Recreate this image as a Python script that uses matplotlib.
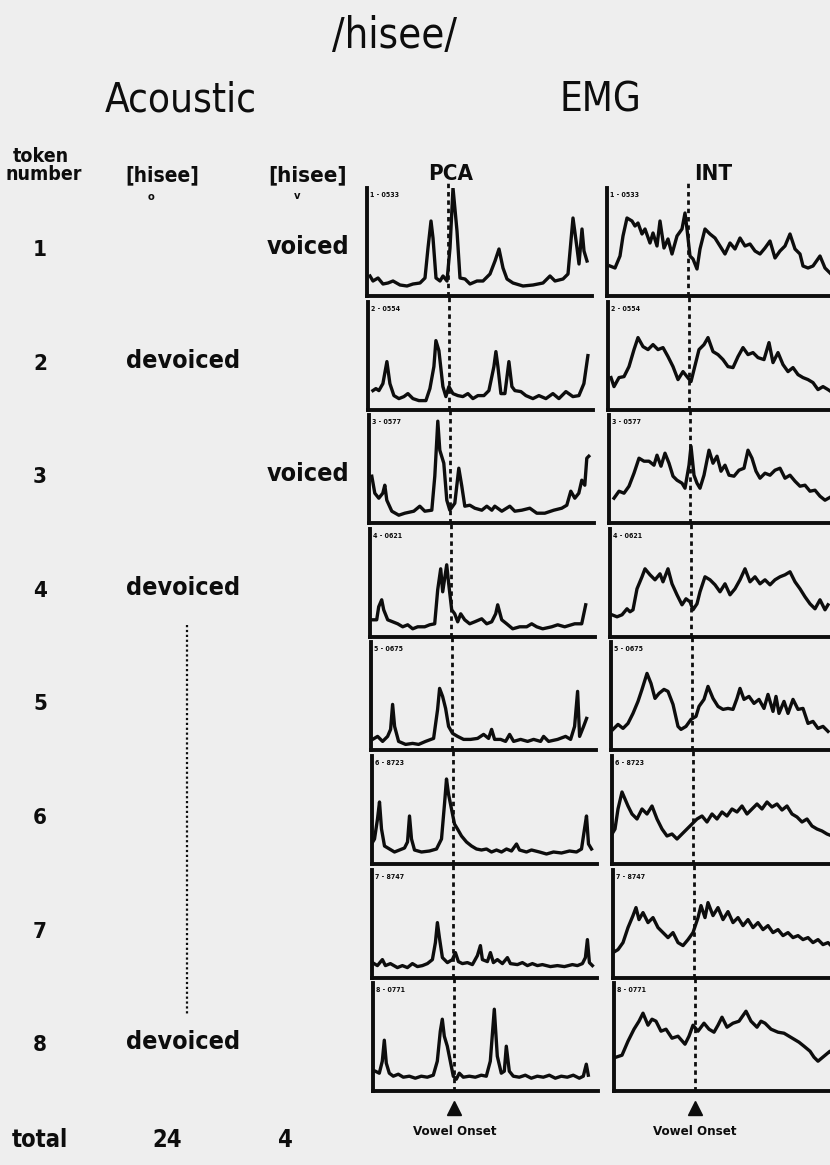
import numpy as np
from matplotlib import pyplot as plt

# token table (left side)
tokens = ["1", "2", "3", "4", "5", "6", "7", "8"]
acoustic_devoiced = ["", "devoiced", "", "devoiced", "", "", "", "devoiced"]
acoustic_voiced = ["voiced", "", "voiced", "", "", "", "", ""]
total_devoiced = "24"
total_voiced = "4"
token_ids = ["0533", "0554", "0577", "0621", "0675", "8723", "8747", "0771"]

vowel_onset = 81  # sample index of the vowel onset in every trace

# EMG traces: (sample, amplitude)
pca_1 = [(3, 20), (6, 15), (11, 18), (16, 12), (21, 13), (26, 15), (33, 11), (40, 10), (46, 12),
         (53, 13), (58, 18), (61, 48), (64, 75), (66, 58), (69, 18), (73, 15), (76, 20), (80, 15),
         (83, 48), (86, 108), (90, 65), (93, 18), (98, 17), (103, 12), (110, 15), (116, 15),
         (123, 22), (128, 35), (132, 47), (136, 28), (140, 17), (146, 13), (156, 10), (166, 11),
         (176, 13), (183, 20), (188, 15), (196, 17), (201, 22), (206, 78), (210, 48), (212, 32),
         (215, 67), (217, 45), (220, 35)]
pca_2 = [(5, 19), (8, 21), (11, 19), (15, 26), (19, 48), (22, 26), (26, 14), (31, 11), (36, 13),
         (40, 16), (45, 11), (51, 9), (58, 9), (62, 21), (66, 43), (68, 69), (71, 59), (75, 23),
         (78, 13), (81, 23), (85, 16), (90, 14), (95, 13), (100, 16), (105, 11), (110, 14),
         (116, 14), (121, 19), (126, 43), (128, 58), (130, 43), (133, 16), (137, 16), (141, 48),
         (144, 23), (147, 19), (153, 18), (158, 14), (165, 11), (171, 14), (178, 11), (185, 16),
         (191, 11), (198, 18), (205, 13), (211, 14), (216, 26), (220, 54)]
pca_3 = [(3, 47), (6, 30), (10, 25), (14, 30), (16, 38), (18, 23), (23, 12), (30, 8), (36, 10),
         (45, 12), (51, 17), (56, 12), (63, 13), (66, 47), (69, 102), (71, 73), (75, 60), (78, 23),
         (81, 13), (86, 20), (90, 55), (93, 37), (96, 17), (101, 18), (106, 15), (113, 13),
         (118, 17), (123, 13), (126, 17), (133, 12), (141, 17), (146, 12), (153, 13), (161, 15),
         (168, 10), (176, 10), (185, 13), (193, 15), (198, 18), (202, 32), (206, 25), (210, 30),
         (213, 43), (216, 38), (218, 65), (220, 67)]
pca_4 = [(2, 17), (7, 17), (9, 30), (12, 37), (14, 27), (18, 17), (23, 15), (28, 13), (33, 10),
         (38, 12), (43, 8), (48, 10), (55, 10), (60, 12), (65, 13), (68, 47), (71, 68), (73, 45),
         (77, 72), (79, 53), (82, 27), (85, 23), (88, 15), (91, 23), (95, 17), (100, 13), (105, 15),
         (112, 18), (117, 13), (122, 15), (126, 23), (128, 32), (132, 17), (137, 13), (143, 8),
         (150, 10), (157, 10), (162, 13), (167, 10), (173, 8), (182, 10), (188, 12), (195, 10),
         (205, 13), (212, 13), (216, 32)]
pca_5 = [(2, 11), (7, 14), (12, 9), (17, 14), (20, 21), (22, 46), (24, 24), (28, 9), (35, 6),
         (42, 7), (48, 6), (55, 9), (63, 12), (67, 41), (69, 62), (72, 54), (75, 42), (78, 24),
         (82, 17), (87, 14), (93, 11), (100, 11), (107, 12), (113, 16), (118, 12), (121, 21),
         (124, 11), (130, 11), (135, 9), (139, 16), (143, 9), (150, 11), (157, 9), (163, 11),
         (170, 9), (173, 14), (178, 9), (187, 11), (195, 14), (200, 11), (204, 24), (207, 59),
         (209, 14), (213, 24), (216, 32)]
pca_6 = [(0, 20), (3, 25), (6, 45), (8, 62), (10, 35), (13, 18), (18, 15), (23, 12), (28, 14),
         (33, 16), (36, 22), (38, 48), (40, 25), (43, 14), (50, 12), (58, 13), (65, 15), (70, 25),
         (73, 60), (75, 85), (77, 70), (80, 55), (83, 40), (86, 35), (90, 28), (95, 22), (100, 18),
         (105, 15), (110, 14), (115, 15), (120, 12), (125, 14), (130, 12), (135, 15), (140, 13),
         (145, 20), (148, 14), (155, 12), (160, 14), (168, 12), (175, 10), (182, 12), (190, 11),
         (198, 13), (205, 12), (210, 15), (213, 35), (215, 48), (217, 20), (220, 15)]
pca_7 = [(0, 15), (5, 12), (10, 18), (13, 12), (18, 14), (25, 10), (30, 12), (35, 10), (40, 14),
         (45, 11), (50, 12), (55, 14), (60, 18), (63, 35), (65, 55), (67, 40), (70, 20), (75, 15),
         (80, 18), (83, 25), (86, 16), (90, 14), (95, 15), (100, 13), (105, 22), (108, 32),
         (110, 18), (115, 16), (118, 25), (121, 15), (125, 18), (130, 14), (135, 20), (138, 14),
         (145, 13), (150, 15), (155, 12), (160, 14), (165, 12), (170, 13), (178, 11), (185, 12),
         (192, 11), (200, 13), (205, 12), (210, 14), (213, 20), (215, 38), (217, 15), (220, 12)]
pca_8 = [(2, 20), (6, 18), (9, 30), (11, 51), (13, 28), (16, 18), (20, 15), (25, 17), (30, 14),
         (36, 15), (42, 13), (48, 15), (54, 14), (60, 16), (64, 30), (67, 60), (69, 72), (71, 55),
         (74, 45), (77, 30), (80, 15), (83, 12), (86, 18), (90, 14), (96, 15), (102, 14), (108, 16),
         (113, 15), (117, 30), (121, 82), (124, 35), (128, 18), (131, 20), (133, 45), (136, 20),
         (140, 15), (146, 14), (152, 16), (158, 13), (164, 15), (170, 14), (176, 16), (182, 13),
         (188, 15), (194, 14), (200, 16), (206, 13), (210, 15), (213, 27), (215, 16)]

int_1 = [(3, 30), (8, 28), (13, 40), (16, 60), (20, 78), (25, 75), (28, 70), (31, 73), (35, 62),
         (38, 67), (43, 53), (46, 63), (50, 50), (53, 75), (57, 48), (61, 57), (65, 42), (70, 60),
         (75, 67), (78, 83), (80, 67), (83, 40), (86, 37), (90, 27), (93, 47), (98, 67), (103, 62),
         (108, 58), (113, 50), (118, 42), (123, 53), (128, 47), (133, 58), (138, 50), (143, 52),
         (148, 45), (153, 42), (158, 48), (163, 55), (168, 38), (173, 45), (178, 50), (183, 62),
         (188, 47), (193, 42), (196, 30), (201, 28), (206, 30), (213, 40), (218, 28), (223, 23)]
int_2 = [(3, 32), (6, 23), (11, 32), (16, 33), (21, 43), (26, 60), (30, 72), (35, 63), (40, 60),
         (45, 65), (50, 60), (55, 62), (60, 53), (65, 43), (70, 30), (75, 38), (79, 33), (83, 28),
         (86, 40), (91, 60), (96, 65), (100, 72), (105, 58), (110, 55), (115, 50), (120, 43),
         (125, 42), (130, 53), (135, 62), (140, 55), (145, 57), (150, 52), (156, 50), (161, 67),
         (165, 47), (170, 57), (175, 45), (180, 38), (185, 42), (190, 35), (195, 32), (200, 30),
         (205, 27), (210, 20), (215, 23), (220, 20), (223, 18)]
int_3 = [(5, 25), (10, 32), (15, 30), (20, 37), (25, 50), (30, 65), (35, 62), (40, 62), (45, 58),
         (48, 68), (52, 57), (56, 70), (60, 60), (64, 47), (68, 43), (73, 40), (76, 35), (80, 58),
         (82, 77), (85, 48), (88, 40), (91, 35), (95, 48), (100, 73), (104, 60), (108, 67),
         (112, 52), (116, 58), (120, 48), (125, 47), (130, 53), (135, 55), (139, 73), (143, 65),
         (147, 52), (151, 45), (156, 50), (161, 48), (166, 53), (171, 55), (176, 45), (181, 48),
         (186, 42), (191, 37), (196, 38), (201, 32), (206, 33), (211, 27), (216, 23), (223, 27)]
int_4 = [(2, 22), (7, 20), (12, 22), (17, 28), (20, 25), (23, 27), (27, 48), (32, 60), (35, 68),
         (40, 62), (45, 57), (50, 63), (53, 55), (58, 68), (62, 53), (67, 42), (72, 32), (76, 38),
         (80, 35), (83, 27), (87, 33), (90, 45), (95, 60), (100, 57), (105, 52), (110, 45),
         (115, 53), (120, 42), (125, 48), (130, 57), (135, 68), (140, 55), (145, 60), (150, 53),
         (155, 57), (160, 52), (165, 57), (170, 60), (175, 62), (180, 65), (185, 55), (190, 48),
         (195, 40), (200, 33), (205, 28), (210, 37), (215, 27), (218, 32)]
int_5 = [(2, 21), (7, 26), (12, 22), (17, 27), (22, 37), (27, 49), (31, 61), (36, 77), (40, 67),
         (44, 52), (48, 57), (53, 61), (57, 59), (62, 46), (67, 24), (70, 21), (75, 24), (80, 31),
         (85, 34), (88, 44), (93, 51), (97, 64), (102, 52), (107, 44), (112, 41), (117, 42),
         (122, 41), (126, 52), (129, 62), (133, 51), (138, 54), (143, 47), (148, 51), (153, 42),
         (157, 56), (162, 39), (165, 54), (168, 37), (173, 49), (177, 37), (182, 51), (187, 41),
         (192, 42), (197, 27), (202, 29), (207, 22), (212, 24), (217, 19)]
int_6 = [(0, 30), (3, 35), (6, 55), (10, 72), (13, 65), (16, 58), (20, 50), (25, 45), (30, 55),
         (35, 50), (40, 58), (45, 45), (50, 35), (55, 28), (60, 30), (65, 25), (70, 30), (75, 35),
         (80, 40), (85, 45), (90, 48), (95, 42), (100, 50), (105, 45), (110, 52), (115, 48),
         (120, 55), (125, 52), (130, 58), (135, 50), (140, 55), (145, 60), (150, 55), (155, 62),
         (160, 57), (165, 60), (170, 54), (175, 58), (180, 50), (185, 47), (190, 42), (195, 45),
         (200, 38), (205, 35), (210, 33), (215, 30), (220, 28)]
int_7 = [(0, 25), (5, 28), (10, 35), (15, 50), (20, 62), (23, 70), (26, 58), (30, 65), (35, 55),
         (40, 60), (45, 50), (50, 45), (55, 40), (60, 45), (65, 35), (70, 32), (75, 38), (80, 45),
         (85, 60), (88, 72), (92, 60), (95, 75), (100, 62), (105, 70), (110, 58), (115, 66),
         (120, 55), (125, 60), (130, 52), (135, 58), (140, 50), (145, 55), (150, 48), (155, 52),
         (160, 45), (165, 48), (170, 42), (175, 45), (180, 40), (185, 42), (190, 38), (195, 40),
         (200, 35), (205, 38), (210, 33), (215, 35), (220, 30)]
int_8 = [(2, 34), (8, 36), (14, 50), (20, 62), (25, 70), (29, 78), (34, 66), (38, 72), (42, 70),
         (47, 60), (52, 62), (58, 53), (64, 55), (71, 47), (75, 55), (79, 66), (84, 60), (90, 68),
         (95, 62), (100, 59), (104, 66), (108, 74), (113, 64), (119, 68), (125, 70), (132, 80),
         (137, 70), (143, 64), (147, 70), (151, 68), (157, 62), (164, 59), (170, 58), (175, 55),
         (180, 52), (185, 49), (190, 45), (196, 40), (200, 34), (204, 30), (210, 35), (216, 40),
         (222, 34)]

pca_traces = [pca_1, pca_2, pca_3, pca_4, pca_5, pca_6, pca_7, pca_8]
int_traces = [int_1, int_2, int_3, int_4, int_5, int_6, int_7, int_8]

W, H = 830, 1165
BG = "#eeeeee"
INK = "#0d0d0d"
FONT = ["DejaVu Sans Condensed", "Liberation Sans Narrow", "DejaVu Sans"]

fig = plt.figure(figsize=(W / 100, H / 100), dpi=100)
fig.patch.set_facecolor(BG)


def ftext(x, y, s, size, weight="bold", ha="center"):
    fig.text(x / W, 1 - y / H, s, fontsize=size, fontweight=weight, ha=ha, va="center",
             color=INK, family=FONT, fontstretch="condensed")


def panel(x, base, trace, label, last):
    ax = fig.add_axes([x / W, 1 - base / H, 225 / W, 108 / H])
    ax.set_facecolor("none")
    t, v = np.array(trace).T
    ax.plot(t, v, color=INK, lw=2.4, solid_joinstyle="round")
    ax.set_xlim(0, 225)
    ax.set_ylim(0, 108)
    for s in ["top", "right"]:
        ax.spines[s].set_visible(False)
    for s in ["left", "bottom"]:
        ax.spines[s].set_linewidth(2.8)
        ax.spines[s].set_color(INK)
    ax.set_xticks([])
    ax.set_yticks([])
    ax.axvline(vowel_onset, ymin=0, ymax=1.06, color=INK, lw=2.0, ls=(0, (1.6, 1.4)),
               clip_on=False)
    ax.text(3, 104, label, fontsize=5, fontweight="bold", va="top", color=INK, family=FONT,
            fontstretch="condensed")
    if last:
        ax.plot(vowel_onset, -17, marker="^", ms=10, color=INK, clip_on=False)
        ax.text(vowel_onset, -40, "Vowel Onset", fontsize=9.5, fontweight="bold", ha="center",
                va="center", color=INK, family=FONT, fontstretch="condensed")
    return ax


for i in range(8):
    base = 296 + i * 113.6
    label = f"{tokens[i]} - {token_ids[i]}"
    panel(367 + i * 0.9, base, pca_traces[i], label, i == 7)
    panel(607 + i * 1.0, base, int_traces[i], label, i == 7)
    yrow = base - 46
    ftext(40, yrow, tokens[i], 16)
    if acoustic_devoiced[i]:
        ftext(183, yrow - 3, acoustic_devoiced[i], 18)
    if acoustic_voiced[i]:
        ftext(308, yrow - 3, acoustic_voiced[i], 18)

# headings
ftext(394, 36, "/hisee/", 30, weight="normal")
ftext(181, 100, "Acoustic", 29, weight="normal")
ftext(600, 100, "EMG", 29, weight="normal")
ftext(41, 156, "token", 14)
ftext(44, 175, "number", 14)
ftext(162, 175, "[hisee]", 15)
ftext(151, 197, "o", 8)
ftext(308, 175, "[hisee]", 16)
ftext(297, 196, "v", 8)
ftext(451, 174, "PCA", 16)
ftext(713, 174, "INT", 16)

# dotted continuation line for tokens 5-7
fig.add_artist(plt.Line2D([187 / W, 187 / W], [1 - 625 / H, 1 - 1015 / H], color=INK,
                          lw=1.6, ls=(0, (1, 1.2))))

ftext(40, 1140, "total", 17)
ftext(167, 1140, total_devoiced, 17)
ftext(285, 1140, total_voiced, 17)

fig.savefig("out.png", dpi=100, facecolor=BG)
